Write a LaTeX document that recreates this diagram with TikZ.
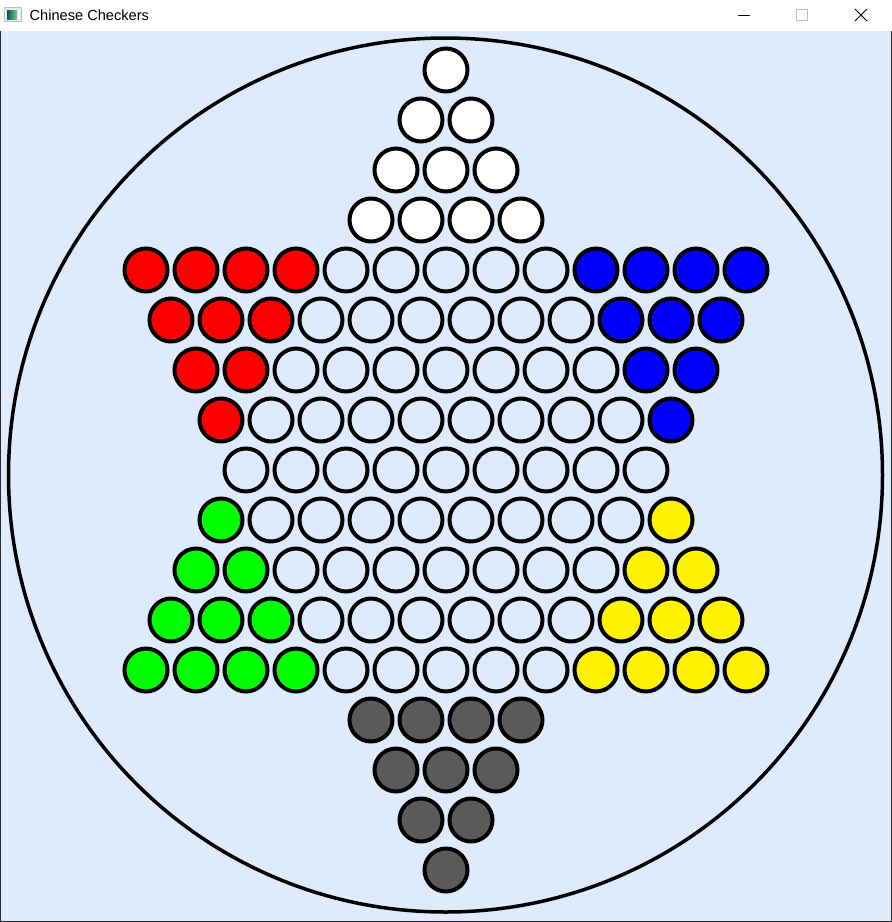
\documentclass[tikz,border=0pt]{standalone}
\usepackage{fontspec}
\setmainfont{Liberation Sans}
\definecolor{boardbg}{HTML}{DDEBFD}
\definecolor{pgray}{HTML}{5A5A5A}
\definecolor{frame}{HTML}{2B2B2B}
\tikzset{
  hole/.style={circle, draw=black, line width=4pt, minimum size=43pt, inner sep=0pt},
  wh/.style={hole, fill=white},
  em/.style={hole, fill=boardbg},
  rd/.style={hole, fill=red},
  bl/.style={hole, fill=blue},
  gr/.style={hole, fill=green},
  ye/.style={hole, fill=yellow},
  gy/.style={hole, fill=pgray},
}
\begin{document}
\begin{tikzpicture}[x=1pt,y=-1pt]
\useasboundingbox (0,0) rectangle (892,922);
% window
\fill[white] (0,0) rectangle (892,31);
\fill[boardbg] (0,31) rectangle (892,922);
\draw[frame, line width=1pt] (0.5,31) -- (0.5,921.5) -- (891.5,921.5) -- (891.5,31);
% title bar
\node[draw=black!25, fill=black!8, line width=0.8pt, minimum width=17pt, minimum height=14pt, inner sep=0pt] (icon) at (13,14.5) {};
\fill[left color=teal!70!black, right color=green!40!gray!70] (7,10) rectangle (17,19);
\fill[white] (18,10) rectangle (20,19);
\node[anchor=base west, inner sep=0pt, font=\fontsize{14.6}{16}\selectfont] (title) at (29.5,20.5) {Chinese Checkers};
\coordinate (mina) at (738,15); \coordinate (minb) at (750,15);
\draw[black, line width=1pt] (mina) -- (minb);
\node[draw=black!25, line width=1pt, minimum size=11pt, inner sep=0pt] (maxbox) at (801.5,14.5) {};
\coordinate (xa) at (855,9); \coordinate (xb) at (867,21);
\coordinate (xc) at (867,9); \coordinate (xd) at (855,21);
\draw[black, line width=1pt] (xa) -- (xb) (xc) -- (xd);
% board
\node[circle, draw=black, line width=3.5pt, minimum size=874pt, inner sep=0pt] (board) at (445.5,475) {};
% rows: row / style / count / start x
\foreach \r/\s/\n/\x in {
  0/wh/1/446, 1/wh/2/421, 2/wh/3/396, 3/wh/4/371,
  4/rd/4/146, 4/em/5/346, 4/bl/4/596,
  5/rd/3/171, 5/em/6/321, 5/bl/3/621,
  6/rd/2/196, 6/em/7/296, 6/bl/2/646,
  7/rd/1/221, 7/em/8/271, 7/bl/1/671,
  8/em/9/246,
  9/gr/1/221, 9/em/8/271, 9/ye/1/671,
  10/gr/2/196, 10/em/7/296, 10/ye/2/646,
  11/gr/3/171, 11/em/6/321, 11/ye/3/621,
  12/gr/4/146, 12/em/5/346, 12/ye/4/596,
  13/gy/4/371, 14/gy/3/396, 15/gy/2/421, 16/gy/1/446}{
  \foreach \i in {1,...,\n}{
    \node[\s] (h-\r-\s-\i) at ({\x+50*(\i-1)},{70+50*\r}) {};
  }
}
\end{tikzpicture}
\end{document}
